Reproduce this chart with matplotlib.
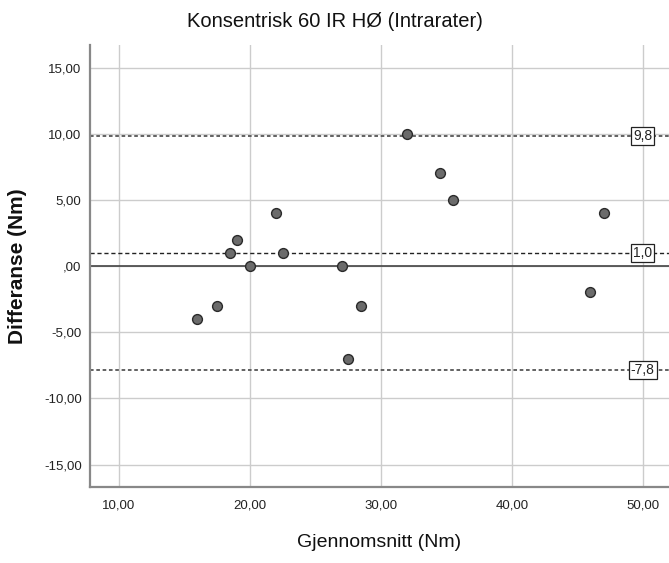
import numpy as np
import matplotlib.pyplot as plt
from matplotlib.ticker import FuncFormatter

plt.rcParams['font.family'] = ['Liberation Sans', 'DejaVu Sans']

# gjennomsnitt og differanse per forsoksperson
gjennomsnitt = [16.0, 17.5, 18.5, 19.0, 20.0, 22.0, 22.5, 27.0, 27.5, 28.5,
                32.0, 34.5, 35.5, 46.0, 47.0]
differanse = [-4.0, -3.0, 1.0, 2.0, 0.0, 4.0, 1.0, 0.0, -7.0, -3.0,
              10.0, 7.0, 5.0, -2.0, 4.0]

x_ticks = [10, 20, 30, 40, 50]
y_ticks = [-15, -10, -5, 0, 5, 10, 15]

d = np.array(differanse)
snitt = d.mean()
sd = d.std(ddof=1)
ovre = snitt + 1.96 * sd
nedre = snitt - 1.96 * sd

def komma(v, pos=None, des=2):
    s = ('%.*f' % (des, v)).replace('.', ',')
    # SPSS skriver null som ",00"
    if s.startswith('0,'):
        s = s[1:]
    return s

fig = plt.figure(figsize=(6.69, 5.63), dpi=100)
ax = fig.add_axes([0.1345, 0.135, 0.8655, 0.785])

ax.set_xlim(7.8, 52.0)
ax.set_ylim(-16.7, 16.7)
ax.set_xticks(x_ticks)
ax.set_yticks(y_ticks)
ax.xaxis.set_major_formatter(FuncFormatter(komma))
ax.yaxis.set_major_formatter(FuncFormatter(komma))
ax.grid(True, color='#cccccc', lw=1.0, zorder=0)
ax.tick_params(length=0, labelsize=9.5, colors='#222222')
ax.tick_params(axis='x', pad=9)
ax.tick_params(axis='y', pad=6)

for s in ['top', 'right']:
    ax.spines[s].set_visible(False)
for s in ['left', 'bottom']:
    ax.spines[s].set_color('#888888')
    ax.spines[s].set_linewidth(1.6)

# nullinje, snitt og grenser
ax.axhline(0, color='#444444', lw=1.2, zorder=2)
ax.axhline(snitt, color='#222222', lw=1.0, ls=(0, (3, 2)), zorder=2)
ax.axhline(ovre, color='#555555', lw=1.3, ls=(0, (2, 1.5)), zorder=2)
ax.axhline(nedre, color='#555555', lw=1.3, ls=(0, (2, 1.5)), zorder=2)

for v in [ovre, snitt, nedre]:
    ax.text(50, v, komma(v, des=1), ha='center', va='center', fontsize=10,
            color='#222222', zorder=4,
            bbox=dict(boxstyle='square,pad=0.15', fc='white', ec='#222222', lw=0.9))

ax.scatter(gjennomsnitt, differanse, s=50, color='#6b6b6b', edgecolor='#2a2a2a',
           linewidth=1.0, zorder=3)

fig.text(0.5, 0.962, 'Konsentrisk 60 IR HØ (Intrarater)', ha='center', va='center',
         fontsize=14.5, color='#111111')
ax.set_xlabel('Gjennomsnitt (Nm)', fontsize=14, labelpad=16, color='#111111')
ax.set_ylabel('Differanse (Nm)', fontsize=15, fontweight='bold', color='#111111')
ax.yaxis.set_label_coords(-0.109, 0.50)

fig.savefig('out.png', dpi=100)
